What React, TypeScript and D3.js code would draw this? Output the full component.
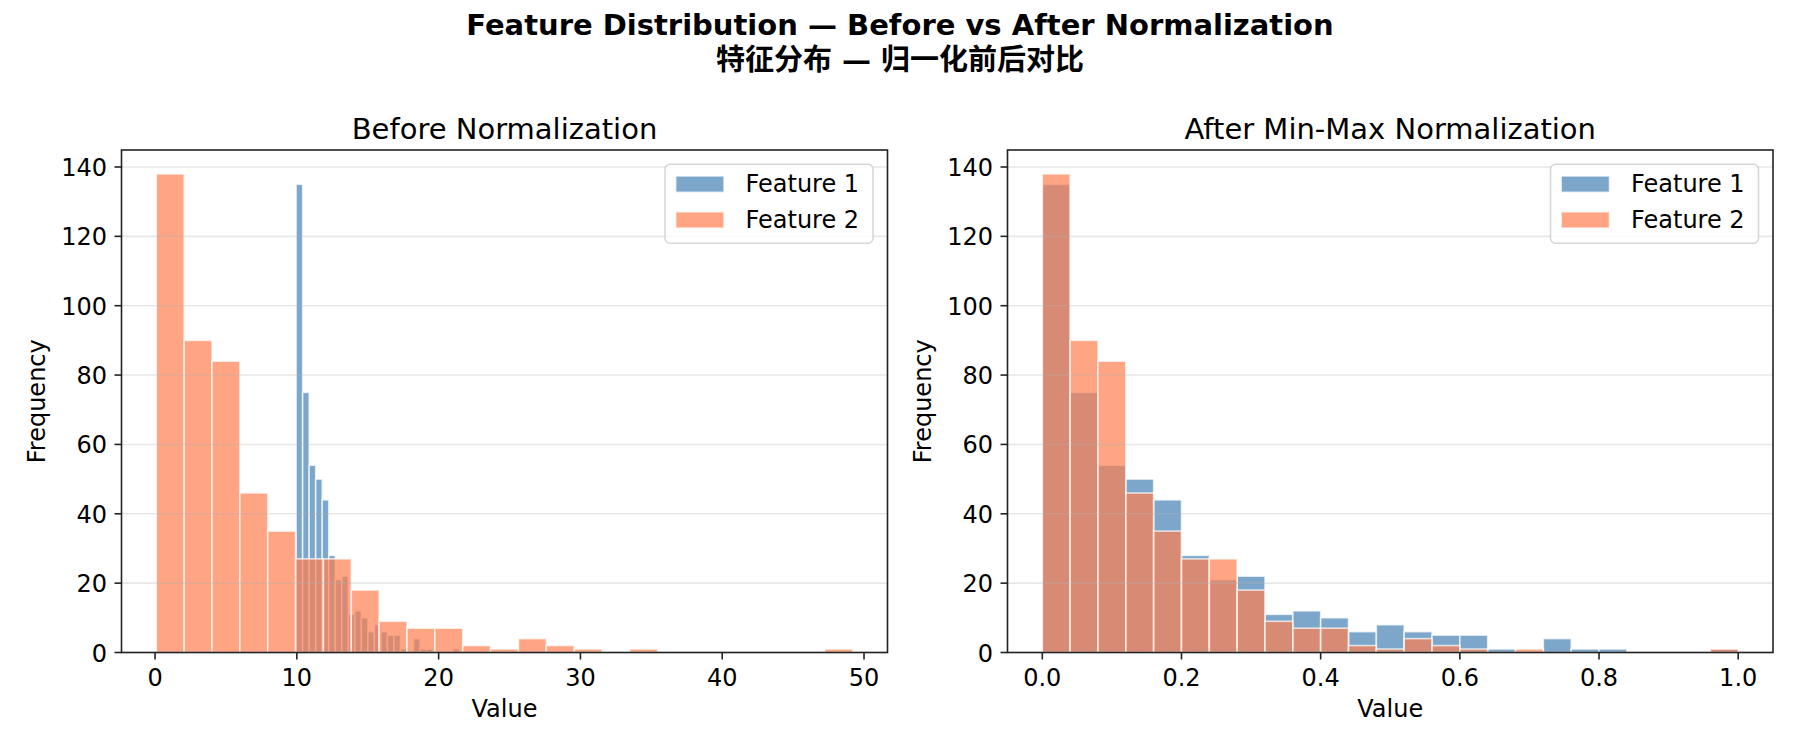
import React from 'react';
import * as d3 from 'd3';

// Histogram counts (25 bins each) and the value span each feature's bins cover
const feature1Counts = [135, 75, 54, 50, 44, 28, 21, 22, 11, 12, 10, 6, 8, 6, 5, 5, 1, 0, 4, 1, 1, 0, 0, 0, 1];
const feature2Counts = [138, 90, 84, 46, 35, 27, 27, 18, 9, 7, 7, 2, 1, 4, 2, 1, 0, 1, 0, 0, 0, 0, 0, 0, 1];
const feature1RawRange: [number, number] = [9.95, 21.45];
const feature2RawRange: [number, number] = [0.09, 49.2];
const normalizedRange: [number, number] = [0, 1];

const seriesNames = ['Feature 1', 'Feature 2'];
const seriesColors = ['#4682b4', '#ff7f50'];
const yTicks = [0, 20, 40, 60, 80, 100, 120, 140];
const rawXTicks = [0, 10, 20, 30, 40, 50];
const normXTicks = [0, 0.2, 0.4, 0.6, 0.8, 1.0];

const W = 1800;
const H = 750;
const TOP = 150;
const BOTTOM = 652.5;
const FONT = '"DejaVu Sans", sans-serif';
const INK = '#222222';

interface Bin {
  x0: number;
  x1: number;
  count: number;
}

const toBins = (counts: number[], range: [number, number]): Bin[] => {
  const step = (range[1] - range[0]) / counts.length;
  return counts.map((count, i) => ({ x0: range[0] + i * step, x1: range[0] + (i + 1) * step, count }));
};

interface PanelProps {
  left: number;
  right: number;
  title: string;
  ranges: [number, number][];
  xTicks: number[];
  fmt: (d: number) => string;
}

const Legend: React.FC<{ right: number }> = ({ right }) => {
  const w = 208;
  const x0 = right - 14.5 - w;
  const y0 = TOP + 14.3;
  return (
    <g>
      <rect x={x0} y={y0} width={w} height={79} rx={5} fill="#fff" fillOpacity={0.8} stroke="#cccccc" strokeOpacity={0.8} strokeWidth={1.5} />
      {seriesNames.map((name, i) => (
        <g key={name}>
          <rect
            x={x0 + 10.7}
            y={y0 + 11.7 + i * 35.8}
            width={48.3}
            height={16.3}
            fill={seriesColors[i]}
            fillOpacity={0.7}
            stroke="#fff"
            strokeOpacity={0.7}
            strokeWidth={1.6}
          />
          <text x={x0 + 80.5} y={y0 + 27.7 + i * 35.8} fontSize={24} fontFamily={FONT} fill="#000">
            {name}
          </text>
        </g>
      ))}
    </g>
  );
};

const Panel: React.FC<PanelProps> = ({ left, right, title, ranges, xTicks, fmt }) => {
  const series = [toBins(feature1Counts, ranges[0]), toBins(feature2Counts, ranges[1])];
  const lo = d3.min(ranges, (r) => r[0]) as number;
  const hi = d3.max(ranges, (r) => r[1]) as number;
  const pad = (hi - lo) * 0.05;
  const x = d3.scaleLinear().domain([lo - pad, hi + pad]).range([left, right]);
  const yMax = (d3.max([...feature1Counts, ...feature2Counts]) as number) * 1.05;
  const y = d3.scaleLinear().domain([0, yMax]).range([BOTTOM, TOP]);
  const cx = (left + right) / 2;

  return (
    <g>
      {series.map((bins, si) => (
        <g key={si}>
          {bins
            .filter((b) => b.count > 0)
            .map((b, i) => (
              <rect
                key={i}
                x={x(b.x0)}
                y={y(b.count)}
                width={x(b.x1) - x(b.x0)}
                height={y(0) - y(b.count)}
                fill={seriesColors[si]}
                fillOpacity={0.7}
                stroke="#fff"
                strokeOpacity={0.7}
                strokeWidth={1.6}
              />
            ))}
        </g>
      ))}

      {/* horizontal grid sits above the bars */}
      {yTicks.map((t) => (
        <line key={t} x1={left} x2={right} y1={y(t)} y2={y(t)} stroke="#b0b0b0" strokeOpacity={0.3} strokeWidth={1.6} />
      ))}

      <rect x={left} y={TOP} width={right - left} height={BOTTOM - TOP} fill="none" stroke={INK} strokeWidth={1.6} />

      {yTicks.map((t) => (
        <g key={t}>
          <line x1={left - 7} x2={left} y1={y(t)} y2={y(t)} stroke={INK} strokeWidth={1.6} />
          <text x={left - 14.5} y={y(t) + 9} textAnchor="end" fontSize={24} fontFamily={FONT} fill="#000">
            {t}
          </text>
        </g>
      ))}
      {xTicks.map((t) => (
        <g key={t}>
          <line x1={x(t)} x2={x(t)} y1={BOTTOM} y2={BOTTOM + 7} stroke={INK} strokeWidth={1.6} />
          <text x={x(t)} y={BOTTOM + 33.5} textAnchor="middle" fontSize={24} fontFamily={FONT} fill="#000">
            {fmt(t)}
          </text>
        </g>
      ))}

      <text x={cx} y={139} textAnchor="middle" fontSize={29} fontFamily={FONT} fill="#000">
        {title}
      </text>
      <text x={cx} y={717} textAnchor="middle" fontSize={24} fontFamily={FONT} fill="#000">
        Value
      </text>
      <text
        transform={`translate(${left - 76.5},${(TOP + BOTTOM) / 2}) rotate(-90)`}
        textAnchor="middle"
        fontSize={24}
        fontFamily={FONT}
        fill="#000"
      >
        Frequency
      </text>

      <Legend right={right} />
    </g>
  );
};

const App: React.FC = () => {
  return (
    <svg width={W} height={H} style={{ position: 'absolute', left: 0, top: 0, background: '#fff' }}>
      <rect width={W} height={H} fill="#fff" />
      <text x={W / 2} y={34.5} textAnchor="middle" fontSize={29} fontWeight="bold" fontFamily={FONT} fill="#000">
        Feature Distribution — Before vs After Normalization
      </text>
      <text
        x={W / 2}
        y={69.5}
        textAnchor="middle"
        fontSize={29}
        fontWeight="bold"
        fontFamily={'"DejaVu Sans", "Noto Sans CJK SC", sans-serif'}
        fill="#000"
      >
        特征分布 — 归一化前后对比
      </text>
      <Panel
        left={121.5}
        right={887.5}
        title="Before Normalization"
        ranges={[feature1RawRange, feature2RawRange]}
        xTicks={rawXTicks}
        fmt={(d) => String(d)}
      />
      <Panel
        left={1007.5}
        right={1773}
        title="After Min-Max Normalization"
        ranges={[normalizedRange, normalizedRange]}
        xTicks={normXTicks}
        fmt={d3.format('.1f')}
      />
    </svg>
  );
};

export default App;
